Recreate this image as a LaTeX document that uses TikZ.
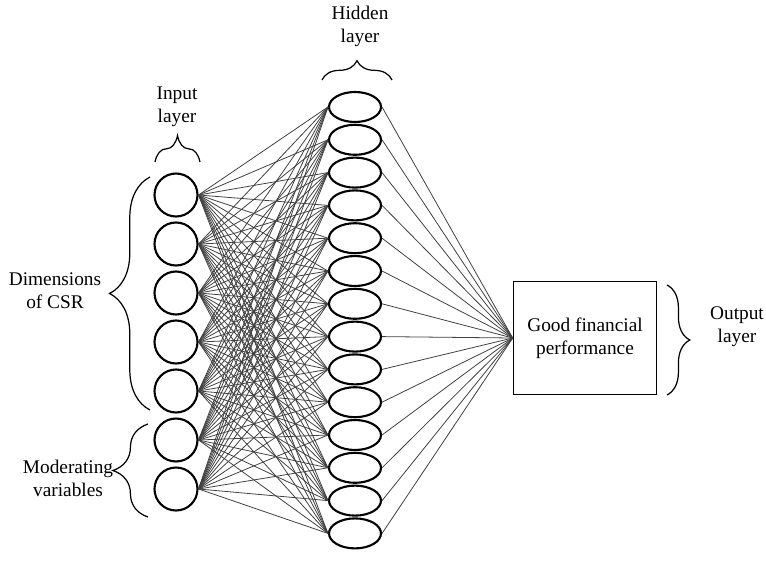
\documentclass[tikz,border=0pt]{standalone}
\usepackage{fontspec}
\setmainfont{Liberation Serif}
\usepackage{tikz}
\usetikzlibrary{shapes.geometric,decorations.pathreplacing}

\begin{document}
\begin{tikzpicture}[x=0.02cm,y=-0.02cm,
        font=\fontsize{11}{13}\selectfont,
        innode/.style={draw,circle,line width=1.2pt,minimum size=0.86cm,inner sep=0pt},
        hidnode/.style={draw,ellipse,line width=1.2pt,minimum width=1.04cm,minimum height=0.6cm,inner sep=0pt},
        link/.style={black!75,line width=0.45pt},
        brc/.style={decorate,line width=0.7pt}]
    \useasboundingbox (0,0) rectangle (766,564);

    % input layer
    \foreach \i/\y in {1/195,2/244,3/293,4/342,5/391,6/440,7/489}
        \node[innode] (in\i) at (176,\y) {};

    % hidden layer
    \foreach \j in {1,...,14}
        \node[hidnode] (hid\j) at (355,{107+(\j-1)*32.8}) {};

    % output layer
    \node[draw,line width=0.9pt,minimum width=2.86cm,minimum height=2.26cm,align=center]
        (out) at (585,338) {Good financial\\performance};

    % links
    \foreach \i in {1,...,7}
        \foreach \j in {1,...,14}
            \draw[link] (in\i.east) -- (hid\j.west);
    \foreach \j in {1,...,14}
        \draw[link] (hid\j.east) -- (out.west);

    % braces and labels
    \draw[brc,decoration={brace,amplitude=15pt}] (155,162) -- (200,162);
    \node[align=center] (inlabel) at (177,107) {Input\\layer};

    \draw[brc,decoration={brace,amplitude=11pt}] (322,80) -- (392,80);
    \node[align=center] (hidlabel) at (360,26) {Hidden\\layer};

    \draw[brc,decoration={brace,amplitude=23pt}] (150,410) -- (150,177);
    \node[align=center] (csrlabel) at (55,291) {Dimensions\\of CSR};

    \draw[brc,decoration={brace,amplitude=20pt}] (148,517) -- (148,424);
    \node[align=center] (modlabel) at (68,478) {Moderating\\variables};

    \draw[brc,decoration={brace,amplitude=13pt}] (667,285) -- (667,395);
    \node[align=center] (outlabel) at (737,327) {Output\\layer};
\end{tikzpicture}
\end{document}
